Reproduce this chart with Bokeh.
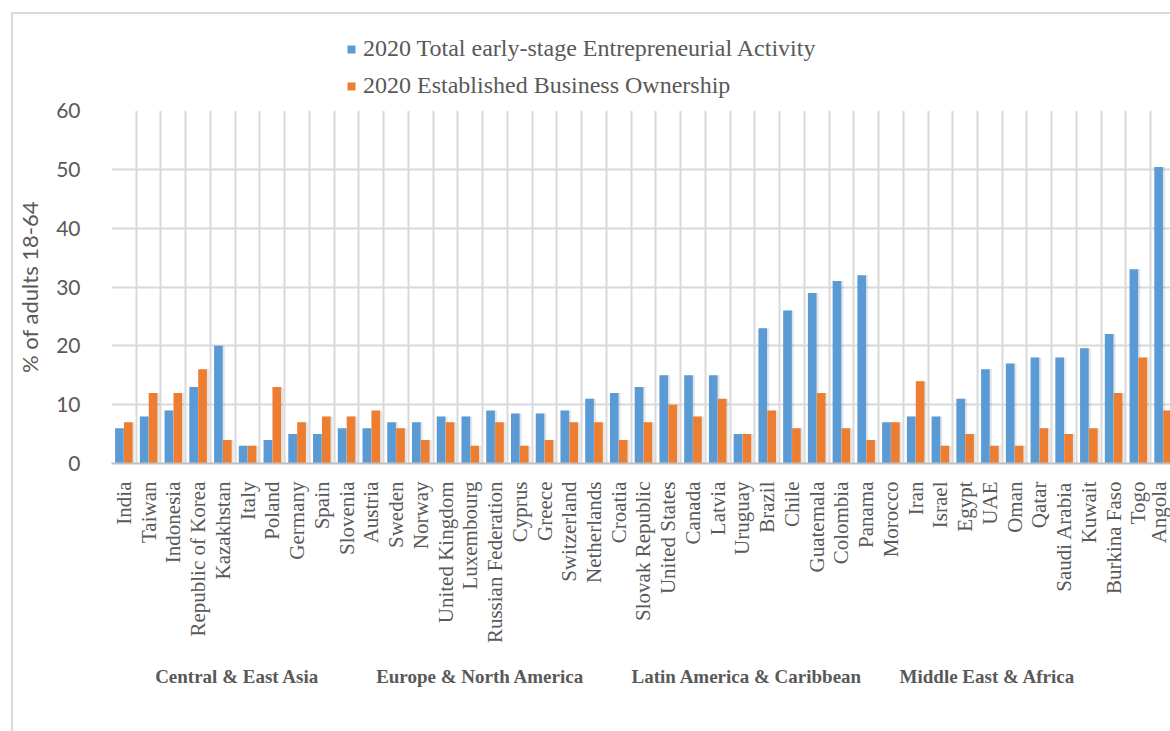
import math
import numpy as np
from bokeh.plotting import figure
from bokeh.layouts import column
from bokeh.models import FixedTicker, Legend, LegendItem, ColumnDataSource, Range1d, LinearAxis
from bokeh.transform import dodge
from bokeh.embed import file_html
from bokeh.resources import INLINE

countries = ["India", "Taiwan", "Indonesia", "Republic of Korea", "Kazakhstan", "Italy", "Poland",
             "Germany", "Spain", "Slovenia", "Austria", "Sweden", "Norway", "United Kingdom",
             "Luxembourg", "Russian Federation", "Cyprus", "Greece", "Switzerland", "Netherlands",
             "Croatia", "Slovak Republic", "United States", "Canada", "Latvia", "Uruguay", "Brazil",
             "Chile", "Guatemala", "Colombia", "Panama", "Morocco", "Iran", "Israel", "Egypt", "UAE",
             "Oman", "Qatar", "Saudi Arabia", "Kuwait", "Burkina Faso", "Togo", "Angola"]
tea = [6, 8, 9, 13, 20, 3, 4, 5, 5, 6, 6, 7, 7, 8, 8, 9, 8.5, 8.5, 9, 11, 12, 13, 15, 15, 15, 5,
       23, 26, 29, 31, 32, 7, 8, 8, 11, 16, 17, 18, 18, 19.6, 22, 33, 50.4]
ebo = [7, 12, 12, 16, 4, 3, 13, 7, 8, 8, 9, 6, 4, 7, 3, 7, 3, 4, 7, 7, 4, 7, 10, 8, 11, 5,
       9, 6, 12, 6, 4, 7, 14, 3, 5, 3, 3, 6, 5, 6, 12, 18, 9]
y_ticks = [0, 10, 20, 30, 40, 50, 60]
series_names = ["2020 Total early-stage Entrepreneurial Activity", "2020 Established Business Ownership"]
regions = ["Central & East Asia", "Europe & North America", "Latin America & Caribbean", "Middle East & Africa"]
region_label_x = [5.08, 14.9, 25.68, 35.4]

BLUE = "#5B9BD5"
ORANGE = "#ED7D31"
GRID = "#D9D9D9"
TXT = "#595959"

n = len(countries)
idx = np.arange(n)
src = ColumnDataSource(dict(x=idx + 0.5, country=countries, tea=tea, ebo=ebo))

# ---- legend strip (top) ----
lf = figure(width=1157, height=84, x_range=Range1d(0, 1), y_range=Range1d(0, 1),
            x_axis_type=None, y_axis_type=None,
            output_backend="svg", toolbar_location=None,
            min_border_left=0, min_border_right=0, min_border_top=0, min_border_bottom=0)
lf.grid.visible = False
lf.outline_line_color = None
lf.background_fill_color = "white"
lf.border_fill_color = "white"
# legend keys (drawn outside the visible range; only their legend swatches show)
key_src = ColumnDataSource(dict(x=[-5.0], top=[0.0]))
k1 = lf.vbar(x="x", top="top", width=0.1, source=key_src, fill_color=BLUE, line_color=None)
k2 = lf.vbar(x="x", top="top", width=0.1, source=key_src, fill_color=ORANGE, line_color=None)
legend = Legend(items=[LegendItem(label=series_names[0], renderers=[k1]),
                       LegendItem(label=series_names[1], renderers=[k2])],
                location=(235, -1), orientation="vertical",
                label_text_font="Liberation Serif", label_text_font_size="24px",
                label_text_color=TXT, glyph_width=10, glyph_height=10,
                label_height=24, spacing=10, padding=0, margin=0, label_standoff=7,
                border_line_color=None, background_fill_alpha=0)
lf.add_layout(legend, "center")

# ---- main chart ----
p = figure(width=1157, height=633, x_range=Range1d(0, 42.8), y_range=Range1d(0, 60),
           output_backend="svg", toolbar_location=None,
           min_border_left=88, min_border_right=0, min_border_top=12, min_border_bottom=268)
p.outline_line_color = None
p.background_fill_color = "white"
p.border_fill_color = "white"

# soft shadows
p.vbar(x=dodge("x", -0.18 + 0.07, range=p.x_range), top="tea", width=0.38, source=src,
       fill_color="#000000", fill_alpha=0.10, line_color=None)
p.vbar(x=dodge("x", 0.18 + 0.07, range=p.x_range), top="ebo", width=0.38, source=src,
       fill_color="#000000", fill_alpha=0.10, line_color=None)

p.vbar(x=dodge("x", -0.18, range=p.x_range), top="tea", width=0.35, source=src,
       fill_color=BLUE, line_color=None)
p.vbar(x=dodge("x", 0.18, range=p.x_range), top="ebo", width=0.35, source=src,
       fill_color=ORANGE, line_color=None)

# y axis
p.yaxis.ticker = FixedTicker(ticks=y_ticks)
p.yaxis.axis_line_color = None
p.yaxis.major_tick_line_color = None
p.yaxis.minor_tick_line_color = None
p.yaxis.major_label_standoff = 25
p.yaxis.major_label_text_font = "Lato"
p.yaxis.major_label_text_font_size = "21px"
p.yaxis.major_label_text_color = TXT
p.yaxis.axis_label = "% of adults 18-64"
p.yaxis.axis_label_text_font = "Lato"
p.yaxis.axis_label_text_font_size = "22px"
p.yaxis.axis_label_text_font_style = "normal"
p.yaxis.axis_label_text_color = TXT
p.yaxis.axis_label_standoff = 10
p.ygrid.ticker = FixedTicker(ticks=y_ticks)
p.ygrid.grid_line_color = GRID
p.ygrid.grid_line_width = 2

# x axis
p.xaxis.ticker = FixedTicker(ticks=[float(i) + 0.5 for i in idx])
p.xaxis.major_label_overrides = {float(i) + 0.5: c for i, c in zip(idx, countries)}
p.xaxis.major_label_orientation = math.pi / 2
p.xaxis.major_label_text_font = "Liberation Serif"
p.xaxis.major_label_text_font_size = "21px"
p.xaxis.major_label_text_color = TXT
p.xaxis.major_tick_line_color = None
p.xaxis.minor_tick_line_color = None
p.xaxis.axis_line_color = "#BFBFBF"
p.xaxis.axis_line_width = 2
p.xaxis.major_label_standoff = 12
p.xgrid.ticker = FixedTicker(ticks=list(range(n + 1)))
p.xgrid.grid_line_color = GRID
p.xgrid.grid_line_width = 2

# region labels as a second axis below
region_axis = LinearAxis(ticker=FixedTicker(ticks=region_label_x),
                         major_label_overrides={x: name for x, name in zip(region_label_x, regions)},
                         axis_line_color=None, major_tick_line_color=None, minor_tick_line_color=None,
                         major_label_standoff=13, major_label_text_font="Liberation Serif",
                         major_label_text_font_size="19px", major_label_text_font_style="bold",
                         major_label_text_color=TXT)
p.add_layout(region_axis, "below")

layout = column(lf, p, spacing=0)
layout.margin = (14, 0, 0, 13)
layout.styles = {"outline": "2px solid #D9D9D9"}

open("out.html", "w").write(file_html(layout, INLINE))
